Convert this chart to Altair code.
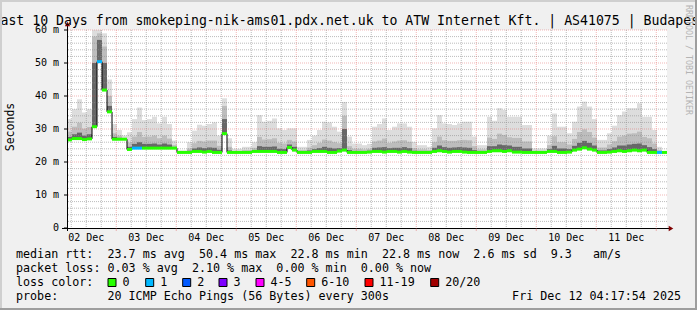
import altair as alt
import pandas as pd

# ---------------- data ----------------
title_text = "Last 10 Days from smokeping-nik-ams01.pdx.net.uk to ATW Internet Kft. | AS41075 | Budapest"
day_labels = ["02 Dec", "03 Dec", "04 Dec", "05 Dec", "06 Dec",
              "07 Dec", "08 Dec", "09 Dec", "10 Dec", "11 Dec"]
y_ticks = [0, 10, 20, 30, 40, 50, 60]
y_tick_labels = ["0", "10 m", "20 m", "30 m", "40 m", "50 m", "60 m"]

# median rtt (ms), one value per 2-hour bin
median_rtt = [
    26.7, 27.1, 27.1, 26.8, 27.0, 30.7, 50.4, 41.8, 35.2, 26.9,
    26.9, 26.9, 23.8, 24.2, 24.2, 24.2, 24.2, 24.2, 24.2, 24.2,
    24.2, 24.2, 22.9, 22.9, 22.9, 23.2, 23.2, 23.0, 23.2, 22.9,
    22.9, 28.6, 22.9, 22.9, 22.9, 22.9, 22.9, 23.2, 23.2, 23.2,
    23.2, 23.2, 22.9, 22.9, 24.4, 23.6, 22.9, 22.9, 22.9, 23.2,
    23.2, 23.2, 22.9, 22.9, 23.3, 23.6, 22.9, 22.9, 22.9, 22.9,
    23.0, 23.2, 23.2, 23.0, 23.2, 23.2, 23.0, 23.2, 23.0, 22.9,
    22.9, 22.9, 22.9, 23.2, 23.4, 23.2, 23.0, 23.2, 23.2, 23.0,
    22.9, 22.9, 22.9, 22.9, 23.2, 23.4, 23.4, 23.2, 23.4, 23.0,
    23.0, 22.9, 22.9, 22.9, 22.9, 22.9, 23.2, 23.2, 22.9, 22.9,
    23.0, 23.6, 23.9, 24.3, 23.9, 23.6, 22.9, 22.9, 23.0, 23.2,
    23.4, 23.2, 23.4, 23.6, 23.4, 23.6, 22.9, 22.9, 22.9, 22.9,
]
# top of the light smoke (slowest pings)
smoke_top = [
    33.0, 36.0, 39.0, 35.0, 36.0, 60.0, 60.0, 59.0, 45.0, 31.5,
    29.7, 28.0, 29.0, 33.0, 36.5, 32.7, 33.0, 33.7, 31.7, 33.7,
    31.5, 26.5, 23.5, 23.5, 26.0, 29.5, 31.3, 31.0, 31.5, 32.0,
    28.0, 39.3, 27.2, 24.0, 24.0, 24.6, 24.6, 26.0, 34.2, 32.2,
    32.5, 33.2, 30.2, 29.7, 30.2, 30.2, 24.6, 24.6, 26.7, 28.0,
    29.7, 32.2, 32.0, 30.7, 29.2, 38.2, 27.7, 25.6, 25.6, 25.1,
    25.5, 30.7, 31.5, 33.2, 29.7, 30.7, 31.7, 31.7, 30.7, 26.1,
    25.1, 25.1, 24.6, 30.2, 34.2, 31.7, 31.5, 31.2, 31.7, 32.2,
    32.2, 27.7, 25.1, 25.1, 33.7, 32.5, 36.3, 35.8, 33.7, 33.7,
    33.7, 31.2, 31.2, 24.1, 24.1, 24.1, 28.0, 34.7, 30.7, 30.7,
    28.7, 32.2, 36.8, 38.3, 36.8, 33.0, 26.7, 26.7, 28.7, 31.0,
    34.2, 35.3, 36.3, 36.3, 37.8, 33.7, 33.7, 29.7, 24.6, 23.0,
]
# top of the medium smoke
smoke_mid = [
    29.2, 30.7, 31.9, 30.1, 30.6, 58.0, 59.0, 55.0, 40.0, 28.7,
    28.0, 27.3, 25.9, 27.7, 29.1, 27.6, 27.7, 28.0, 27.2, 28.0,
    27.1, 25.1, 23.1, 23.1, 24.1, 25.7, 26.4, 26.2, 26.5, 26.5,
    24.9, 37.0, 24.6, 23.3, 23.3, 23.6, 23.6, 24.3, 27.6, 26.8,
    26.9, 27.2, 25.8, 25.6, 26.7, 26.2, 23.6, 23.6, 24.4, 25.1,
    25.8, 26.8, 26.5, 26.0, 25.7, 34.0, 24.8, 24.0, 24.0, 23.8,
    24.0, 26.2, 26.5, 27.1, 25.8, 26.2, 26.5, 26.6, 26.1, 24.2,
    23.8, 23.8, 23.6, 26.0, 27.7, 26.6, 26.4, 26.4, 26.6, 26.7,
    26.6, 24.8, 23.8, 23.8, 27.4, 27.0, 28.6, 28.2, 27.5, 27.3,
    27.3, 26.2, 26.2, 23.4, 23.4, 23.4, 25.1, 27.8, 26.0, 26.0,
    25.3, 27.0, 29.1, 29.9, 29.1, 27.4, 24.4, 24.4, 25.3, 26.3,
    27.7, 28.0, 28.6, 28.7, 29.2, 27.6, 27.2, 25.6, 23.6, 22.9,
]
# top of the dark smoke (pings close to the median)
smoke_dark = [
    27.6, 28.4, 28.9, 28.0, 28.4, 50.0, 57.0, 50.0, 37.0, 27.6,
    27.3, 27.1, 24.6, 25.5, 26.0, 25.5, 25.5, 25.6, 25.3, 25.6,
    25.3, 24.5, 23.0, 23.0, 23.4, 24.1, 24.4, 24.2, 24.4, 24.3,
    23.7, 33.0, 23.5, 23.1, 23.1, 23.2, 23.2, 23.6, 24.8, 24.6,
    24.6, 24.7, 24.0, 23.9, 25.3, 24.6, 23.2, 23.2, 23.5, 23.9,
    24.2, 24.6, 24.3, 24.1, 24.2, 30.0, 23.6, 23.3, 23.3, 23.2,
    23.4, 24.3, 24.4, 24.5, 24.2, 24.3, 24.3, 24.5, 24.2, 23.4,
    23.2, 23.2, 23.2, 24.3, 25.0, 24.5, 24.3, 24.4, 24.5, 24.4,
    24.3, 23.6, 23.2, 23.2, 24.8, 24.8, 25.3, 25.1, 25.0, 24.6,
    24.6, 24.1, 24.1, 23.1, 23.1, 23.1, 23.9, 24.9, 24.1, 24.1,
    23.9, 24.9, 25.8, 26.4, 25.8, 25.0, 23.5, 23.5, 23.9, 24.4,
    25.0, 25.0, 25.3, 25.5, 25.6, 25.1, 24.5, 23.9, 23.2, 22.9,
]
loss_one_bins = [6, 13, 14, 118]  # bins where 1 of 20 pings was lost

legend_rows = [
    "median rtt:  23.7 ms avg  50.4 ms max  22.8 ms min  22.8 ms now  2.6 ms sd  9.3   am/s",
    "packet loss: 0.03 % avg  2.10 % max  0.00 % min  0.00 % now",
    "loss color:",
    "probe:       20 ICMP Echo Pings (56 Bytes) every 300s",
]
timestamp = "Fri Dec 12 04:17:54 2025"
loss_labels = ["0", "1", "2", "3", "4-5", "6-10", "11-19", "20/20"]
loss_colors = ["#26FF00", "#00B8FF", "#0059FF", "#7E00FF",
               "#FF00FF", "#FF5500", "#FF0000", "#A10000"]
loss_box_x = [108, 145.7, 182.7, 219, 256, 306.7, 365, 430.7]

# ---------------- layout ----------------
MONO = "DejaVu Sans Mono"
START_H = 4 + 17 / 60 + 54 / 3600
SPAN_H = 240
BIN_H = 2
W, H = 600, 198
PL, PT, PR, PB = 67, 30, 30, 82
GRID = "rgba(143,143,143,0.6)"
MGRID = "rgba(222,80,80,0.42)"

n = len(median_rtt)
df = pd.DataFrame({
    "t0": [START_H + BIN_H * i for i in range(n)],
    "t1": [START_H + BIN_H * (i + 1) for i in range(n)],
    "med": median_rtt,
    "top": smoke_top,
    "mid": smoke_mid,
    "dark": smoke_dark,
    "loss": ["1" if i in loss_one_bins else "0" for i in range(n)],
})
step_df = pd.DataFrame({
    "t": list(df["t0"]) + [START_H + SPAN_H],
    "med": median_rtt + [median_rtt[-1]],
})

xs = alt.Scale(domain=[START_H, START_H + SPAN_H], nice=False, zero=False)
ys = alt.Scale(domain=[0, 60], nice=False)


def XQ(f):
    return alt.X(f, type="quantitative", scale=xs, axis=None)


def YQ(f):
    return alt.Y(f, type="quantitative", scale=ys, axis=None)


ONE = alt.Data(values=[{"a": 1}])


def label(x, y, s, size=11.7, align="left", baseline="alphabetic",
          color="#000000", angle=0, font=MONO):
    return alt.Chart(ONE).mark_text(
        text=s.replace(" ", "\u00a0"), font=font, fontSize=size, align=align,
        baseline=baseline, color=color, angle=angle
    ).encode(x=alt.value(x - PL), y=alt.value(y - PT))


def hline(x1, x2, y, color, width=1):
    return alt.Chart(ONE).mark_rule(color=color, strokeWidth=width).encode(
        x=alt.value(x1 - PL), x2=alt.value(x2 - PL), y=alt.value(y - PT))


def vline(x, y1, y2, color, width=1):
    return alt.Chart(ONE).mark_rule(color=color, strokeWidth=width).encode(
        x=alt.value(x - PL), y=alt.value(y1 - PT), y2=alt.value(y2 - PT))


layers = []

# smoke
for col, color in [("top", "#DDDDDD"), ("mid", "#BDBDBD"), ("dark", "#676767")]:
    layers.append(alt.Chart(df).mark_rect(color=color).encode(
        x=XQ("t0"), x2="t1", y=YQ("med"), y2=col))

# grid
minor_x = [h for h in range(6, 246, 6) if h % 24 and START_H <= h <= START_H + SPAN_H]
major_x = [h for h in range(24, 246, 24) if h <= START_H + SPAN_H]
minor_y = [v for v in range(2, 60, 2) if v % 10]
major_y = [v for v in y_ticks if v > 0]
layers.append(alt.Chart(pd.DataFrame({"h": minor_x})).mark_rule(
    color=GRID, strokeDash=[1, 1]).encode(x=XQ("h")))
layers.append(alt.Chart(pd.DataFrame({"v": minor_y})).mark_rule(
    color=GRID, strokeDash=[1, 1]).encode(y=YQ("v")))
layers.append(alt.Chart(pd.DataFrame({"h": major_x})).mark_rule(
    color=MGRID, strokeDash=[1, 1]).encode(x=XQ("h")))
layers.append(alt.Chart(pd.DataFrame({"v": major_y})).mark_rule(
    color=MGRID, strokeDash=[1, 1]).encode(y=YQ("v")))

# median line
layers.append(alt.Chart(step_df).mark_line(
    interpolate="step-after", color="#000000", strokeWidth=1).encode(
    x=XQ("t"), y=YQ("med")))
layers.append(alt.Chart(df).mark_rule(strokeWidth=3).encode(
    x=XQ("t0"), x2="t1", y=YQ("med"),
    color=alt.Color("loss:N", scale=alt.Scale(domain=["0", "1"],
                                              range=[loss_colors[0], loss_colors[1]]),
                    legend=None)))

# axes
layers.append(vline(67.5, 231, 26, "#000000"))
layers.append(hline(62, 670, 228.5, "#000000"))
layers.append(alt.Chart(pd.DataFrame({"v": y_ticks})).mark_rule(color="#000000").encode(
    y=YQ("v"), x=alt.value(-3), x2=alt.value(0)))
layers.append(alt.Chart(pd.DataFrame({"h": major_x})).mark_rule(color=MGRID).encode(
    x=XQ("h"), y=alt.value(H), y2=alt.value(H + 3)))
layers.append(alt.Chart(ONE).mark_point(shape="triangle-up", filled=True, color="#7F0000",
                                        size=28, opacity=1).encode(
    x=alt.value(67.5 - PL), y=alt.value(24 - PT)))
layers.append(alt.Chart(ONE).mark_point(shape="triangle-right", filled=True, color="#7F0000",
                                        size=28, opacity=1).encode(
    x=alt.value(671 - PL), y=alt.value(228.5 - PT)))

# axis labels
layers.append(alt.Chart(pd.DataFrame({"v": y_ticks, "lab": y_tick_labels})).mark_text(
    align="right", baseline="middle", font=MONO, fontSize=10, color="#000000").encode(
    y=YQ("v"), x=alt.value(59 - PL), text="lab:N"))
layers.append(alt.Chart(pd.DataFrame({"h": [12 + 24 * k for k in range(len(day_labels))],
                                      "lab": day_labels})).mark_text(
    align="center", baseline="alphabetic", font=MONO, fontSize=10, color="#000000").encode(
    x=XQ("h"), y=alt.value(241 - PT), text="lab:N"))
layers.append(label(11, 127, "Seconds", size=11.5, align="center", baseline="middle", angle=270))

# title and watermark
layers.append(label(-7.5, 24.5, title_text, size=13.2))
layers.append(label(688, 60, "RRDTOOL / TOBI OETIKER", size=8.3, align="center",
                    baseline="middle", angle=90, color="#B4B4B4"))

# legend rows
for k, row in enumerate(legend_rows):
    layers.append(label(16, 257.5 + 14 * k, row))
layers.append(label(681, 299.5, timestamp, align="right"))
for bx, c, lab in zip(loss_box_x, loss_colors, loss_labels):
    layers.append(alt.Chart(ONE).mark_rect(fill=c, stroke="#000000", strokeWidth=1).encode(
        x=alt.value(bx - PL), x2=alt.value(bx + 8 - PL),
        y=alt.value(278.5 - PT), y2=alt.value(286.5 - PT)))
    layers.append(label(bx + 14.5, 285.5, lab))

# frame shading
layers.append(hline(0, 697, 1, "#CFCFCF", 2))
layers.append(vline(1, 0, 310, "#CFCFCF", 2))
layers.append(hline(0, 697, 309, "#9E9E9E", 2))
layers.append(vline(696, 0, 310, "#9E9E9E", 2))

chart = alt.layer(*layers).properties(
    width=W, height=H,
    autosize=alt.AutoSizeParams(type="none"),
    padding={"left": PL, "top": PT, "right": PR, "bottom": PB},
    background="#F0F0F0",
).configure_view(fill="#FFFFFF", strokeWidth=0)

chart.save("out.html", embed_options={"renderer": "svg", "actions": False})
